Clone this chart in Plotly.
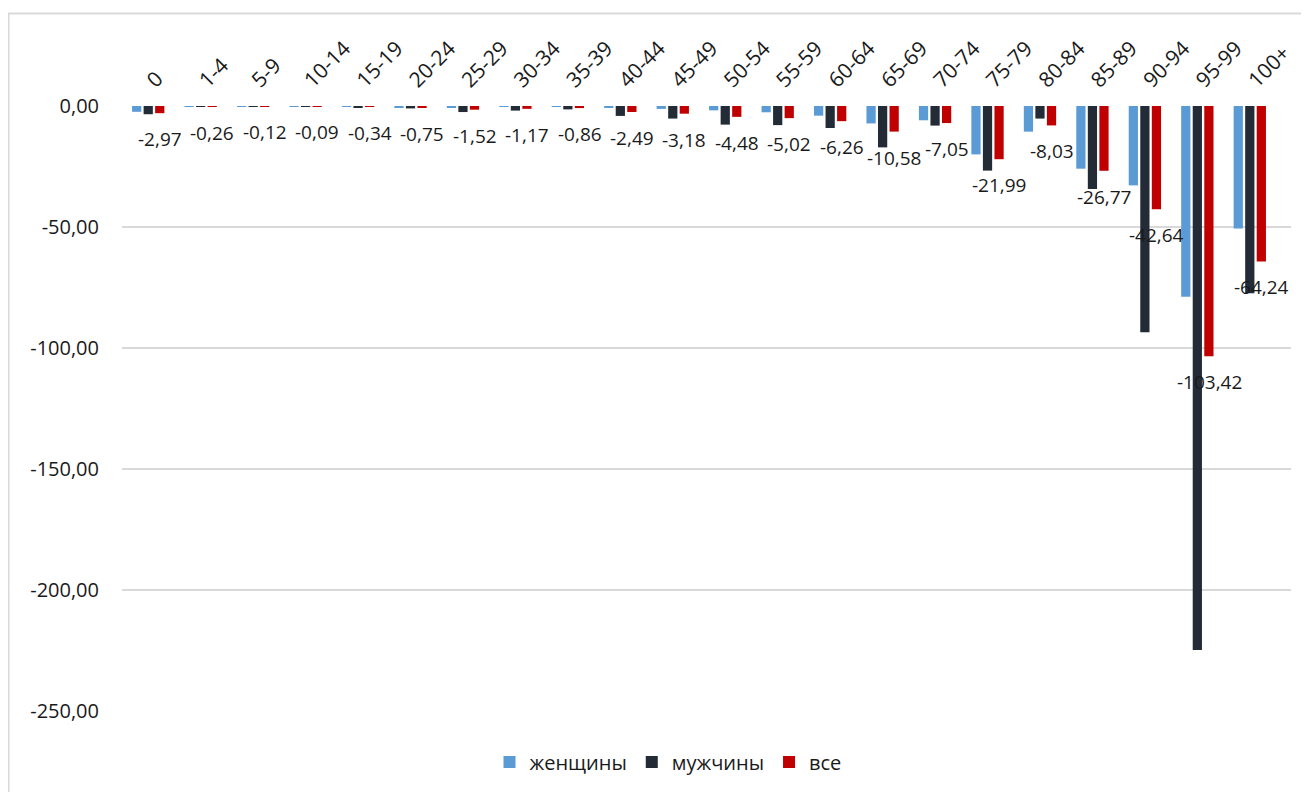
import plotly.graph_objects as go

categories = ["0", "1-4", "5-9", "10-14", "15-19", "20-24", "25-29", "30-34", "35-39",
              "40-44", "45-49", "50-54", "55-59", "60-64", "65-69", "70-74", "75-79",
              "80-84", "85-89", "90-94", "95-99", "100+"]
women = [-2.4, -0.2, -0.1, -0.08, -0.25, -0.5, -0.6, -0.4, -0.3, -0.8, -1.2, -1.8, -2.6,
         -4.0, -7.2, -5.9, -20.0, -10.6, -25.9, -32.8, -78.8, -50.6]
men = [-3.4, -0.3, -0.14, -0.1, -0.45, -1.0, -2.5, -1.9, -1.4, -4.1, -5.2, -7.7, -7.9,
       -9.1, -17.1, -8.1, -26.7, -5.2, -34.3, -93.5, -224.8, -77.4]
total = [-2.97, -0.26, -0.12, -0.09, -0.34, -0.75, -1.52, -1.17, -0.86, -2.49, -3.18,
         -4.48, -5.02, -6.26, -10.58, -7.05, -21.99, -8.03, -26.77, -42.64, -103.42, -64.24]
series_names = ["женщины", "мужчины", "все"]
series_colors = ["#5B9BD5", "#232B37", "#C00000"]
y_ticks = [0, -50, -100, -150, -200, -250]


def fmt(v):
    return f"{v:.2f}".replace(".", ",")


# page body has an 8px margin, figure coordinates = screen - 8
OFF = 8
W, H = 1309 - OFF, 792 - OFF
L, T = 122 - OFF, 106 - OFF
R = W - (1291 - OFF)
B = H - (711 - OFF)
pw, ph = W - L - R, H - T - B

FONT = "Open Sans"
TXT = "#1a1a1a"


def px(xs):
    return (xs - OFF - L) / pw


def py(ys):
    return (H - B - (ys - OFF)) / ph


fig = go.Figure()
for name, vals, col in zip(series_names, [women, men, total], series_colors):
    fig.add_trace(go.Bar(x=categories, y=vals, name=name, marker_color=col,
                         marker_line_width=0))

for c, v in zip(categories, total):
    fig.add_annotation(x=c, y=v, xref="x", yref="y", text=fmt(v),
                       showarrow=False, xshift=11.7, yshift=-26,
                       font=dict(family=FONT, size=19, color=TXT))

fig.add_shape(type="rect", xref="paper", yref="paper",
              x0=px(8.5), x1=px(1330), y0=py(13.5), y1=py(830),
              line=dict(color="#D9D9D9", width=2), fillcolor="rgba(0,0,0,0)", layer="below")

fig.update_layout(
    width=W, height=H,
    margin=dict(l=L, r=R, t=T, b=B, pad=0, autoexpand=False),
    paper_bgcolor="white", plot_bgcolor="white",
    barmode="group", bargap=0.34, bargroupgap=0.2,
    font=dict(family=FONT, size=19, color=TXT),
    legend=dict(orientation="h", x=px(668), y=py(762), xanchor="center", yanchor="middle",
                font=dict(family=FONT, size=20, color=TXT), itemsizing="constant",
                traceorder="normal", itemwidth=30),
    showlegend=True,
)
fig.update_xaxes(side="top", tickangle=-45, showgrid=False, showline=False, automargin=False,
                 ticks="", ticklabelstandoff=9, tickfont=dict(family=FONT, size=21, color=TXT))
fig.update_yaxes(range=[-250, 0], tickvals=y_ticks, ticktext=[fmt(t) for t in y_ticks],
                 showgrid=True, automargin=False,
                 gridcolor="#D9D9D9", gridwidth=1.5, zeroline=False, showline=False,
                 ticks="", ticklabelstandoff=22, tickfont=dict(family=FONT, size=20, color=TXT))

fig.write_html("out.html")
